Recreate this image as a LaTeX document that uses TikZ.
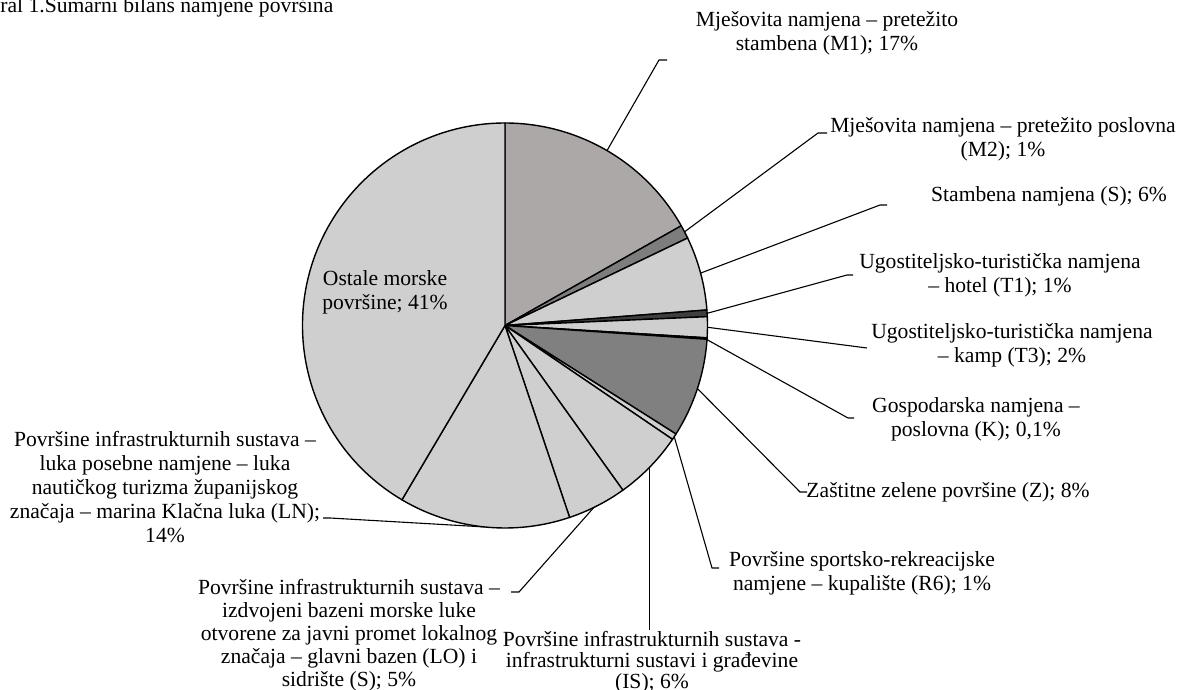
\documentclass[tikz,border=0pt]{standalone}
\usepackage{fontspec}
\setmainfont{Liberation Serif}
\usetikzlibrary{calc}

\definecolor{lightsl}{RGB}{207,207,207}
\definecolor{m1sl}{RGB}{172,168,167}
\definecolor{m2sl}{RGB}{126,125,125}
\definecolor{t1sl}{RGB}{62,62,62}
\definecolor{ksl}{RGB}{25,25,25}
\definecolor{zsl}{RGB}{128,128,128}

\begin{document}
\begin{tikzpicture}[
  x=0.5pt, y=-0.5pt,
  font=\fontsize{10.8}{12}\selectfont,
  slice/.style={draw=black, line width=0.7pt, line join=round},
  lead/.style={draw=black, line width=0.55pt},
  lbl/.style={align=center, inner sep=0pt},
  lbltight/.style={lbl, font=\fontsize{10.8}{11.5}\selectfont},
]
\path[use as bounding box, fill=white] (0,0) rectangle (1177,690);
\def\R{101.25pt}
\coordinate (c) at (505,325.5);

% pie slices, clockwise from the top
\foreach \a/\b/\col in {90/29.5/m1sl, 29.5/25.6/m2sl, 25.6/4.4/lightsl,
    4.4/2.5/t1sl, 2.5/-3.5/lightsl, -3.5/-3.9/ksl, -3.9/-32.4/zsl,
    -32.4/-34.2/lightsl, -34.2/-54.4/lightsl, -54.4/-71.4/lightsl,
    -71.4/-120.6/lightsl, -120.6/-270/lightsl}
  \draw[slice, fill=\col] (c) -- ([shift={(\a:\R)}]c)
    arc[start angle=\a, end angle=\b, radius=\R] -- cycle;

\node[anchor=base west, inner sep=0pt] (title) at (0,13)
  {ral 1.Sumarni bilans namjene površina};

\node[lbl] (lOst) at (385,292) {Ostale morske\\površine; 41\%};
\node[lbl] (lM1) at (827,33) {Mješovita namjena – pretežito\\stambena (M1); 17\%};
\node[lbl] (lM2) at (1003,139) {Mješovita namjena – pretežito poslovna\\(M2); 1\%};
\node[lbl] (lS) at (1049,196) {Stambena namjena (S); 6\%};
\node[lbl] (lT1) at (1000,275) {Ugostiteljsko-turistička namjena\\– hotel (T1); 1\%};
\node[lbl] (lT3) at (1012,345) {Ugostiteljsko-turistička namjena\\– kamp (T3); 2\%};
\node[lbl] (lK) at (976,419) {Gospodarska namjena –\\poslovna (K); 0,1\%};
\node[lbl] (lZ) at (948,492) {Zaštitne zelene površine (Z); 8\%};
\node[lbl] (lR6) at (862,573) {Površine sportsko-rekreacijske\\namjene – kupalište (R6); 1\%};
\node[lbl, font=\fontsize{10.8}{10.5}\selectfont] (lIS) at (652,662)
  {Površine infrastrukturnih sustava -\\infrastrukturni sustavi i građevine\\(IS); 6\%};
\node[lbltight] (lLO) at (349,635) {Površine infrastrukturnih sustava –\\izdvojeni bazeni morske luke\\otvorene za javni promet lokalnog\\značaja – glavni bazen (LO) i\\sidrište (S); 5\%};
\node[lbl] (lLN) at (165,487) {Površine infrastrukturnih sustava –\\luka posebne namjene – luka\\nautičkog turizma županijskog\\značaja – marina Klačna luka (LN);\\14\%};

% leader lines
\coordinate (pM1) at ([shift={(59.75:\R)}]c);
\coordinate (pM2) at ([shift={(27.55:\R)}]c);
\coordinate (pS) at ([shift={(15:\R)}]c);
\coordinate (pT1) at ([shift={(3.45:\R)}]c);
\coordinate (pT3) at ([shift={(-0.5:\R)}]c);
\coordinate (pK) at ([shift={(-4:\R)}]c);
\coordinate (pZ) at ([shift={(-18.15:\R)}]c);
\coordinate (pR6) at ([shift={(-33.3:\R)}]c);
\coordinate (pIS) at ([shift={(-44.3:\R)}]c);
\coordinate (pLO) at ([shift={(-64:\R)}]c);
\coordinate (pLN) at ([shift={(-96:\R)}]c);

\coordinate (eM1) at (659,60);  \coordinate (tM1) at (667,60);
\coordinate (eM2) at (818,133); \coordinate (tM2) at (827,133);
\coordinate (eS) at (880,205);  \coordinate (tS) at (887,205);
\coordinate (eT1) at (847,275); \coordinate (tT1) at (853,275);
\coordinate (tT3) at (867,348);
\coordinate (eK) at (848,418);  \coordinate (tK) at (854,418);
\coordinate (eZ) at (800,492);  \coordinate (tZ) at (807,492);
\coordinate (eR6) at (712,568); \coordinate (tR6) at (719,568);
\coordinate (tIS) at (pIS |- 0,630);
\coordinate (eLO) at (519,592); \coordinate (tLO) at (511,592);
\coordinate (eLN) at (330,518); \coordinate (tLN) at (323,518);

\draw[lead] (pM1) -- (eM1) -- (tM1);
\draw[lead] (pM2) -- (eM2) -- (tM2);
\draw[lead] (pS) -- (eS) -- (tS);
\draw[lead] (pT1) -- (eT1) -- (tT1);
\draw[lead] (pT3) -- (tT3);
\draw[lead] (pK) -- (eK) -- (tK);
\draw[lead] (pZ) -- (eZ) -- (tZ);
\draw[lead] (pR6) -- (eR6) -- (tR6);
\draw[lead] (pIS) -- (tIS);
\draw[lead] (pLO) -- (eLO) -- (tLO);
\draw[lead] (pLN) -- (eLN) -- (tLN);
\end{tikzpicture}
\end{document}
